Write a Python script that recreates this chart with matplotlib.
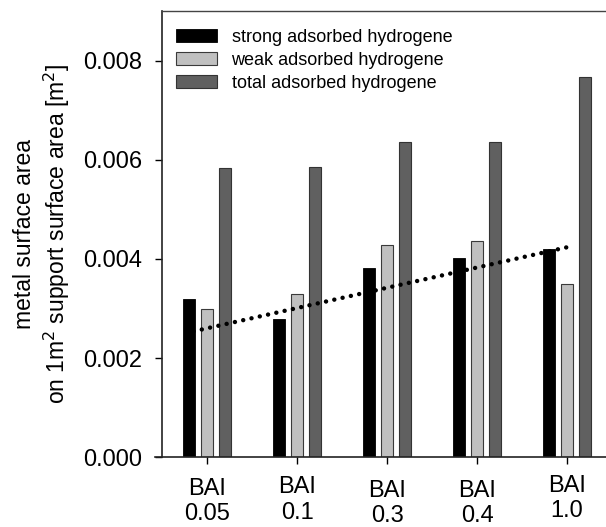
import matplotlib
matplotlib.use("Agg")
import matplotlib.pyplot as plt
import numpy as np

categories = ["BAI\n0.05", "BAI\n0.1", "BAI\n0.3", "BAI\n0.4", "BAI\n1.0"]
strong = [0.00319, 0.00279, 0.00381, 0.00401, 0.00420]
weak = [0.00299, 0.00329, 0.00428, 0.00437, 0.00350]
total = [0.00584, 0.00586, 0.00636, 0.00636, 0.00767]
trend_x = [-0.15, 4.06]
trend_y = [0.00254, 0.00426]
label_dy = [0.5, 2, -1.5, -1.5, 3.5]  # small vertical shifts of category labels (px)

plt.rcParams['font.family'] = ['Liberation Sans', 'DejaVu Sans']

fig = plt.figure(figsize=(6.06, 5.27), dpi=100)
ax = fig.add_axes([162/606, 69.7/527, 450/606, 446.3/527])

x = np.arange(len(categories))
off = 0.2
w = 0.128
ax.bar(x - off, strong, w, color="#000000", edgecolor="#000000", linewidth=0.6,
       label="strong adsorbed hydrogene", zorder=2)
ax.bar(x, weak, w, color="#c0c0c0", edgecolor="#3a3a3a", linewidth=0.8,
       label="weak adsorbed hydrogene", zorder=2)
ax.bar(x + off, total, w, color="#606060", edgecolor="#333333", linewidth=0.8,
       label="total adsorbed hydrogene", zorder=2)

ax.plot(trend_x, trend_y, color="black", linewidth=3.2,
        linestyle=(0, (0.01, 1.9)), dash_capstyle="round", zorder=3)

ax.set_xlim(-0.5, 4.5)
ax.set_ylim(0, 0.009)
ax.set_yticks([0, 0.002, 0.004, 0.006, 0.008])
ax.set_yticklabels(["0.000", "0.002", "0.004", "0.006", "0.008"], fontsize=17)
ax.set_xticks(x)
ax.set_xticklabels([])
ax.tick_params(axis="y", direction="out", length=5, width=1, pad=9)
ax.tick_params(axis="x", direction="out", length=5, width=1)

for i, lab in enumerate(categories):
    ax.annotate(lab, xy=(x[i], 0), xycoords=("data", "axes fraction"),
                xytext=(0, -21 + label_dy[i]), textcoords="offset pixels",
                ha="center", va="top", fontsize=17, linespacing=1.2,
                annotation_clip=False)

ax.set_ylabel("metal surface area\non 1m$^2$ support surface area [m$^2$]",
              fontsize=16.5, labelpad=8, linespacing=1.25)

for s in ["left", "bottom"]:
    ax.spines[s].set_linewidth(1.2)
    ax.spines[s].set_color("#222222")
ax.spines["top"].set_linewidth(1.0)
ax.spines["top"].set_color("#444444")
ax.spines["right"].set_visible(False)
ax.spines["bottom"].set_bounds(-0.58, 4.5)

leg = ax.legend(loc="upper left", bbox_to_anchor=(0.0, 0.99), frameon=False,
                fontsize=13, handlelength=2.3, handleheight=0.72,
                handletextpad=0.8, labelspacing=0.33, borderaxespad=0.35)

fig.savefig("out.png", dpi=100)
